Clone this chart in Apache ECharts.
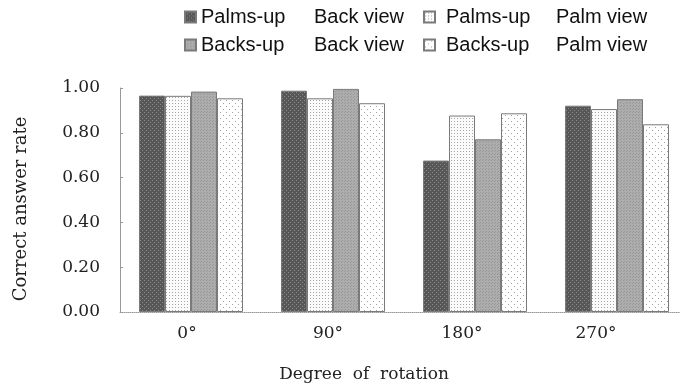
<!DOCTYPE html>
<html>
<head>
<meta charset="utf-8">
<script src="https://cdn.jsdelivr.net/npm/echarts@6/dist/echarts.min.js"></script>
<style>
  html, body { margin: 0; padding: 0; background: #fff; }
  #chart { width: 680px; height: 387px; }
</style>
</head>
<body>
<div id="chart"></div>
<script>
// 数据
var categories = ['0°', '90°', '180°', '270°'];
var palmsUpBack = [0.966, 0.988, 0.676, 0.921];
var palmsUpPalm = [0.965, 0.954, 0.877, 0.906];
var backsUpBack = [0.984, 0.996, 0.771, 0.950];
var backsUpPalm = [0.954, 0.932, 0.887, 0.838];
var yTicks = [0, 0.2, 0.4, 0.6, 0.8, 1.0];

// 标签左移量（原图标签与柱组不完全对齐）
var labelShift = [8, 10, 26, 42];

function make_pattern(bg, dot, size, dots) {
    // 生成小画布纹理，用于模拟印刷网点
    var c = document.createElement('canvas');
    c.width = size; c.height = size;
    var ctx = c.getContext('2d');
    ctx.fillStyle = bg;
    ctx.fillRect(0, 0, size, size);
    ctx.fillStyle = dot;
    for (var i = 0; i < dots.length; i++) {
        ctx.fillRect(dots[i][0], dots[i][1], 1, 1);
    }
    return {image: c, repeat: 'repeat'};
}

var fills = [
    make_pattern('#575757', '#8a8a8a', 4, [[0, 0], [2, 2]]),
    make_pattern('#fbfbfb', '#a6a6a6', 3, [[1, 1]]),
    make_pattern('#adadad', '#989898', 3, [[0, 0], [2, 1]]),
    make_pattern('#ffffff', '#a0a0a0', 6, [[1, 1], [4, 4]])
];

var names = ['Palms-up Back view', 'Palms-up Palm view', 'Backs-up Back view', 'Backs-up Palm view'];
var values = [palmsUpBack, palmsUpPalm, backsUpBack, backsUpPalm];

var serif = 'DejaVu Serif';
var sans = 'Liberation Sans';

function legend_fmt(name) {
    var k = name.indexOf(' ');
    return '{a|' + name.slice(0, k) + '}{b|' + name.slice(k + 1) + '}';
}

var series = [];
for (var i = 0; i < names.length; i++) {
    series.push({
        name: names[i],
        type: 'bar',
        data: values[i],
        barWidth: 26,
        barGap: '0%',
        itemStyle: {
            color: fills[i],
            borderColor: '#7a7a7a',
            borderWidth: 1
        },
        emphasis: {disabled: true}
    });
}

var xRich = {};
for (var j = 0; j < categories.length; j++) {
    xRich['c' + j] = {fontFamily: serif, fontSize: 17, color: '#222', padding: [0, labelShift[j], 0, 0]};
}

function legend_text(aw, apad) {
    return {
        fontFamily: sans, fontSize: 20, color: '#111', lineHeight: 20,
        rich: {
            a: {fontFamily: sans, fontSize: 20, color: '#111', width: aw, padding: [0, 0, 0, apad]},
            b: {fontFamily: sans, fontSize: 20, color: '#111'}
        }
    };
}

var chart = echarts.init(document.getElementById('chart'));
var option = {
    animation: false,
    backgroundColor: '#fff',
    grid: {left: 120, width: 568, top: 88, height: 224, outerBoundsMode: 'none', containLabel: false},
    legend: [
        {
            data: [names[0], names[2]],
            orient: 'vertical',
            left: 184, top: 7, padding: 0,
            icon: 'rect',
            itemWidth: 11, itemHeight: 11, itemGap: 8,
            formatter: legend_fmt,
            textStyle: legend_text(113, 0)
        },
        {
            data: [names[1], names[3]],
            orient: 'vertical',
            left: 423, top: 7, padding: 0,
            icon: 'rect',
            itemWidth: 11, itemHeight: 11, itemGap: 8,
            formatter: legend_fmt,
            textStyle: legend_text(110, 6)
        }
    ],
    xAxis: {
        type: 'category',
        data: categories,
        name: 'Degree  of  rotation',
        nameLocation: 'middle',
        nameGap: 54,
        nameTextStyle: {fontFamily: serif, fontSize: 17, color: '#222', padding: [0, 80, 0, 0]},
        axisLine: {lineStyle: {color: '#999', width: 1, type: 'dotted'}},
        axisTick: {show: false},
        axisLabel: {
            margin: 13,
            formatter: function (v, idx) { return '{c' + idx + '|' + v + '}'; },
            rich: xRich
        }
    },
    yAxis: {
        type: 'value',
        min: yTicks[0],
        max: yTicks[yTicks.length - 1],
        interval: 0.2,
        name: 'Correct answer rate',
        nameLocation: 'middle',
        nameRotate: 90,
        nameGap: 90,
        nameTextStyle: {fontFamily: serif, fontSize: 18, color: '#222', padding: [0, 18, 0, 0]},
        axisLine: {show: true, lineStyle: {color: '#999', width: 1}},
        axisTick: {show: true, inside: true, length: 3, lineStyle: {color: '#999'}},
        splitLine: {show: false},
        axisLabel: {
            margin: 20,
            fontFamily: serif, fontSize: 17, color: '#222',
            formatter: function (v) { return v.toFixed(2); }
        }
    },
    series: series
};
chart.setOption(option);
</script>
</body>
</html>
